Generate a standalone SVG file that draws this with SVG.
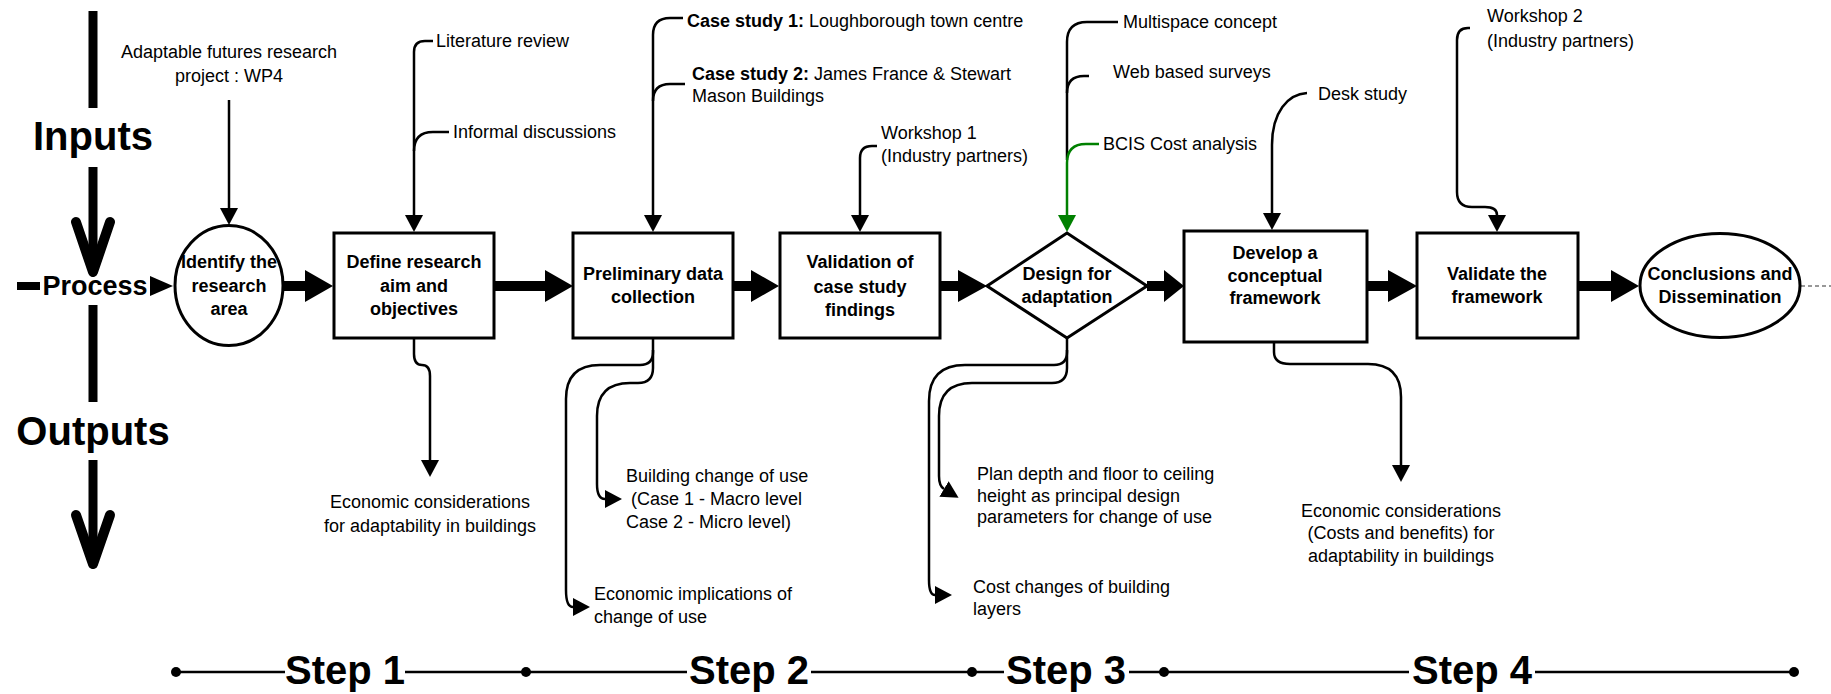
<svg xmlns="http://www.w3.org/2000/svg" width="1831" height="694" viewBox="0 0 1831 694">
<style>
.nd{fill:#fff;stroke:#000;stroke-width:3}
.nt{font-family:"Liberation Sans",Arial,sans-serif;font-weight:bold;font-size:18px;text-anchor:middle;fill:#000}
.lb{font-family:"Liberation Sans",Arial,sans-serif;font-size:18px;fill:#000}
.lbc{font-family:"Liberation Sans",Arial,sans-serif;font-size:18px;fill:#000;text-anchor:middle}
.big{font-family:"Liberation Sans",Arial,sans-serif;font-weight:bold;font-size:40px;text-anchor:middle;fill:#000}
.cn{fill:none;stroke:#000;stroke-width:2.5}
.cg{fill:none;stroke:#008000;stroke-width:2.5}
.thick{fill:#000}
.bar{stroke:#000;stroke-width:9;fill:none}
</style>
<defs>
<marker id="ah" viewBox="0 0 17 18" refX="0" refY="9" markerWidth="17" markerHeight="18" markerUnits="userSpaceOnUse" orient="auto">
<path d="M0,0 L17,9 L0,18 z" fill="#000"/>
</marker>
<marker id="ahg" viewBox="0 0 17 18" refX="0" refY="9" markerWidth="17" markerHeight="18" markerUnits="userSpaceOnUse" orient="auto">
<path d="M0,0 L17,9 L0,18 z" fill="#008000"/>
</marker>
</defs>

<g id="legend">
<line class="bar" x1="93" y1="11" x2="93" y2="108"/>
<text x="93" y="150" class="big">Inputs</text>
<line class="bar" x1="93" y1="167" x2="93" y2="270"/>
<polyline points="76,222 93,272 110,222" fill="none" stroke="#000" stroke-width="10" stroke-linejoin="round" stroke-linecap="round"/>
<rect x="17" y="282" width="23" height="8" fill="#000"/>
<text x="95" y="295" font-family="Liberation Sans, Arial, sans-serif" font-weight="bold" font-size="27" text-anchor="middle">Process</text>
<polygon points="150,276 173,286 150,296" fill="#000"/>
<line class="bar" x1="93" y1="305" x2="93" y2="402"/>
<text x="93" y="445" class="big">Outputs</text>
<line class="bar" x1="93" y1="460" x2="93" y2="561"/>
<polyline points="76,515 93,564 110,515" fill="none" stroke="#000" stroke-width="10" stroke-linejoin="round" stroke-linecap="round"/>
</g>

<g id="connectors">
<!-- thick process arrows -->
<polygon class="thick" points="284,281 305,281 305,270 333,286 305,302 305,291 284,291"/>
<polygon class="thick" points="494,281 545,281 545,270 573,286 545,302 545,291 494,291"/>
<polygon class="thick" points="733,281 751,281 751,270 779,286 751,302 751,291 733,291"/>
<polygon class="thick" points="940,281 958,281 958,270 987,286 958,302 958,291 940,291"/>
<polygon class="thick" points="1147,281 1164,281 1164,270 1184,286 1164,302 1164,291 1147,291"/>
<polygon class="thick" points="1367,281 1388,281 1388,270 1417,286 1388,302 1388,291 1367,291"/>
<polygon class="thick" points="1578,281 1611,281 1611,270 1639,286 1611,302 1611,291 1578,291"/>
<line x1="1801" y1="286" x2="1831" y2="286" stroke="#777" stroke-width="1.5" stroke-dasharray="4 3"/>
<!-- inputs -->
<path class="cn" d="M229,100 V208" marker-end="url(#ah)"/>
<path class="cn" d="M433,41 H425 Q414,41 414,52 V215" marker-end="url(#ah)"/>
<path class="cn" d="M449,132 H433 Q414,132 414,151"/>
<path class="cn" d="M683,18 H670 Q653,18 653,35 V215" marker-end="url(#ah)"/>
<path class="cn" d="M685,84 H670 Q653,84 653,101"/>
<path class="cn" d="M877,146 H872 Q860,146 860,158 V215" marker-end="url(#ah)"/>
<path class="cn" d="M1118,22 H1087 Q1067,22 1067,42 V160"/>
<path class="cn" d="M1089,76 H1084 Q1067,76 1067,93"/>
<path class="cg" d="M1099,144 H1086 Q1067,144 1067,163 V215" marker-end="url(#ahg)"/>
<path class="cn" d="M1307,93 C1288,94 1272,112 1272,145 V213" marker-end="url(#ah)"/>
<path class="cn" d="M1470,28 H1468 Q1457,28 1457,40 V192 Q1457,207 1472,207 H1485 Q1497,207 1497,215" marker-end="url(#ah)"/>
<!-- outputs -->
<path class="cn" d="M414,338 V354 Q414,365 422,365 Q430,365 430,376 V460" marker-end="url(#ah)"/>
<path class="cn" d="M653,338 V352 Q653,365 640,365 H600 Q566,365 566,399 V590 Q566,607 573,607" marker-end="url(#ah)"/>
<path class="cn" d="M653,350 V368 Q653,383 638,383 H630 Q597,383 597,416 V484 Q597,499 605,499" marker-end="url(#ah)"/>
<path class="cn" d="M1067,337 V352 Q1067,365 1054,365 H965 Q929,365 929,401 V580 Q929,595 935,595" marker-end="url(#ah)"/>
<path class="cn" d="M1067,350 V368 Q1067,383 1052,383 H972 Q939,383 939,416 V476 Q939,486 944,489" marker-end="url(#ah)"/>
<path class="cn" d="M1274,342 V352 Q1274,364 1290,364 H1368 Q1401,364 1401,397 V465" marker-end="url(#ah)"/>
</g>

<g id="n-identify">
<ellipse class="nd" cx="229" cy="285.5" rx="54" ry="60"/>
<text class="nt" x="229" y="268">Identify the</text>
<text class="nt" x="229" y="292">research</text>
<text class="nt" x="229" y="315">area</text>
</g>
<g id="n-define">
<rect class="nd" x="334" y="233" width="160" height="105"/>
<text class="nt" x="414" y="268">Define research</text>
<text class="nt" x="414" y="292">aim and</text>
<text class="nt" x="414" y="315">objectives</text>
</g>
<g id="n-prelim">
<rect class="nd" x="573" y="233" width="160" height="105"/>
<text class="nt" x="653" y="280">Preliminary data</text>
<text class="nt" x="653" y="303">collection</text>
</g>
<g id="n-validation">
<rect class="nd" x="780" y="233" width="160" height="105"/>
<text class="nt" x="860" y="268">Validation of</text>
<text class="nt" x="860" y="293">case study</text>
<text class="nt" x="860" y="316">findings</text>
</g>
<g id="n-design">
<polygon class="nd" points="987,286 1067,233 1147,286 1067,338"/>
<text class="nt" x="1067" y="280">Design for</text>
<text class="nt" x="1067" y="303">adaptation</text>
</g>
<g id="n-develop">
<rect class="nd" x="1184" y="231" width="183" height="111"/>
<text class="nt" x="1275" y="259">Develop a</text>
<text class="nt" x="1275" y="282">conceptual</text>
<text class="nt" x="1275" y="304">framework</text>
</g>
<g id="n-validate">
<rect class="nd" x="1417" y="233" width="161" height="105"/>
<text class="nt" x="1497" y="280">Validate the</text>
<text class="nt" x="1497" y="303">framework</text>
</g>
<g id="n-conclusions">
<ellipse class="nd" cx="1720" cy="285.5" rx="80" ry="52"/>
<text class="nt" x="1720" y="280">Conclusions and</text>
<text class="nt" x="1720" y="303">Dissemination</text>
</g>

<g id="input-labels">
<text class="lbc" x="229" y="58">Adaptable futures research</text>
<text class="lbc" x="229" y="82">project : WP4</text>
<text class="lb" x="436" y="47">Literature review</text>
<text class="lb" x="453" y="138">Informal discussions</text>
<text class="lb" x="687" y="27"><tspan font-weight="bold">Case study 1:</tspan> Loughborough town centre</text>
<text class="lb" x="692" y="80"><tspan font-weight="bold">Case study 2:</tspan> James France &amp; Stewart</text>
<text class="lb" x="692" y="102">Mason Buildings</text>
<text class="lb" x="881" y="139">Workshop 1</text>
<text class="lb" x="881" y="162">(Industry partners)</text>
<text class="lb" x="1123" y="28">Multispace concept</text>
<text class="lb" x="1113" y="78">Web based surveys</text>
<text class="lb" x="1103" y="150">BCIS Cost analysis</text>
<text class="lb" x="1318" y="100">Desk study</text>
<text class="lb" x="1487" y="22">Workshop 2</text>
<text class="lb" x="1487" y="47">(Industry partners)</text>
</g>

<g id="output-labels">
<text class="lbc" x="430" y="508">Economic considerations</text>
<text class="lbc" x="430" y="532">for adaptability in buildings</text>
<text class="lb" x="626" y="482">Building change of use</text>
<text class="lb" x="626" y="505" xml:space="preserve"> (Case 1 - Macro level</text>
<text class="lb" x="626" y="528">Case 2 - Micro level)</text>
<text class="lb" x="594" y="600">Economic implications of</text>
<text class="lb" x="594" y="623">change of use</text>
<text class="lb" x="977" y="480">Plan depth and floor to ceiling</text>
<text class="lb" x="977" y="502">height as principal design</text>
<text class="lb" x="977" y="523">parameters for change of use</text>
<text class="lb" x="973" y="593">Cost changes of building</text>
<text class="lb" x="973" y="615">layers</text>
<text class="lbc" x="1401" y="517">Economic considerations</text>
<text class="lbc" x="1401" y="539">(Costs and benefits) for</text>
<text class="lbc" x="1401" y="562">adaptability in buildings</text>
</g>

<g id="timeline">
<g stroke="#000" stroke-width="2.5">
<line x1="176" y1="672" x2="285" y2="672"/>
<line x1="405" y1="672" x2="687" y2="672"/>
<line x1="811" y1="672" x2="1004" y2="672"/>
<line x1="1129" y1="672" x2="1409" y2="672"/>
<line x1="1535" y1="672" x2="1794" y2="672"/>
</g>
<g fill="#000">
<circle cx="176" cy="672" r="5"/>
<circle cx="526" cy="672" r="5"/>
<circle cx="972" cy="672" r="5"/>
<circle cx="1164" cy="672" r="5"/>
<circle cx="1794" cy="672" r="5"/>
</g>
<text class="big" x="345" y="684">Step 1</text>
<text class="big" x="749" y="684">Step 2</text>
<text class="big" x="1066" y="684">Step 3</text>
<text class="big" x="1472" y="684">Step 4</text>
</g>
</svg>
